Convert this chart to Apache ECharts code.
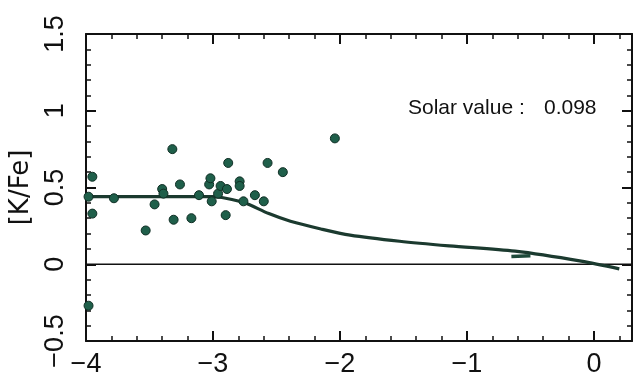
<!DOCTYPE html>
<html><head><meta charset="utf-8">
<script src="https://cdn.jsdelivr.net/npm/echarts@6/dist/echarts.min.js"></script>
<style>html,body{margin:0;padding:0;background:#fff}#c{width:636px;height:378px}</style>
</head><body><div id="c"></div>
<script>
// Observed stars
var starFeH = [-3.98, -3.95, -3.95, -3.98, -3.78, -3.53, -3.46, -3.40, -3.39, -3.32, -3.31, -3.26, -3.17, -3.11, -3.03, -3.02, -3.01, -2.96, -2.94, -2.90, -2.89, -2.88, -2.79, -2.79, -2.76, -2.67, -2.60, -2.57, -2.45, -2.04];
var starKFe = [0.44, 0.57, 0.33, -0.27, 0.43, 0.22, 0.39, 0.49, 0.46, 0.75, 0.29, 0.52, 0.30, 0.45, 0.52, 0.56, 0.41, 0.46, 0.51, 0.32, 0.49, 0.66, 0.54, 0.51, 0.41, 0.45, 0.41, 0.66, 0.60, 0.82];
// Model curve
var modelFeH = [-4.0, -3.5, -3.0, -2.9, -2.75, -2.56, -2.39, -2.15, -1.92, -1.53, -1.14, -0.62, -0.1, 0.2];
var modelKFe = [0.44, 0.44, 0.44, 0.43, 0.40, 0.33, 0.28, 0.23, 0.19, 0.15, 0.12, 0.085, 0.02, -0.03];
// Short segment
var segFeH = [-0.65, -0.5];
var segKFe = [0.05, 0.055];
// Zero line
var zeroFeH = [-4, 0.3];
var zeroKFe = [0, 0];
var solarLabel = 'Solar value :';
var solarValue = '0.098';

function pairs(xs, ys){ return xs.map(function(x,i){ return [x, ys[i]]; }); }
var FONT = 'Liberation Sans';
var axisCommon = {
  axisLine: {show: true, onZero: false, lineStyle: {color: '#111', width: 2}},
  axisTick: {show: true, inside: true, length: 10, lineStyle: {color: '#111', width: 2}},
  minorTick: {show: true, splitNumber: 5, length: 5, lineStyle: {color: '#111', width: 1.5}},
  splitLine: {show: false}, minorSplitLine: {show: false}
};
function xa(pos, showLabel){
  return Object.assign({type: 'value', position: pos, min: -4, max: 0.3, interval: 1,
    axisLabel: {show: showLabel, color: '#111', fontFamily: FONT, fontSize: 27, margin: 10, showMaxLabel: false,
      formatter: function(v){ return String(v).replace('-', '\u2212'); }}}, JSON.parse(JSON.stringify(axisCommon)));
}
function ya(pos, showLabel){
  var o = Object.assign({type: 'value', position: pos, min: -0.5, max: 1.5, interval: 0.5,
    axisLabel: {show: showLabel, rotate: 90, color: '#111', fontFamily: FONT, fontSize: 27, margin: 17,
      formatter: function(v){ return String(v).replace('-', '\u2212'); }}}, JSON.parse(JSON.stringify(axisCommon)));
  return o;
}
var y0 = ya('left', true);
y0.name = '[K/Fe]'; y0.nameLocation = 'middle'; y0.nameGap = 52;
y0.nameTextStyle = {fontFamily: 'DejaVu Sans', fontSize: 26, color: '#111'};
var chart = echarts.init(document.getElementById('c'));
chart.setOption({
  animation: false,
  grid: {left: 84, right: 4, top: 34, bottom: 37},
  xAxis: [xa('bottom', true), xa('top', false)],
  yAxis: [y0, ya('right', false)],
  series: [
    {type: 'line', data: pairs(zeroFeH, zeroKFe), showSymbol: false, lineStyle: {color: '#111', width: 1.3}, z: 1},
    {type: 'line', data: pairs(modelFeH, modelKFe), smooth: 0.3, showSymbol: false, lineStyle: {color: '#1b3a2f', width: 3.2}, z: 3},
    {type: 'line', data: pairs(segFeH, segKFe), showSymbol: false, lineStyle: {color: '#1d4a3a', width: 3.5}, z: 3},
    {type: 'scatter', data: pairs(starFeH, starKFe), symbolSize: 9,
      itemStyle: {color: '#1f5f4a', borderColor: '#0f2e24', borderWidth: 1, opacity: 1}, z: 4}
  ],
  graphic: [
    {type: 'text', left: 408, top: 98, style: {text: solarLabel, font: '21px "Liberation Sans"', fill: '#111'}},
    {type: 'text', left: 544, top: 98, style: {text: solarValue, font: '21px "Liberation Sans"', fill: '#111'}}
  ]
});
</script></body></html>
